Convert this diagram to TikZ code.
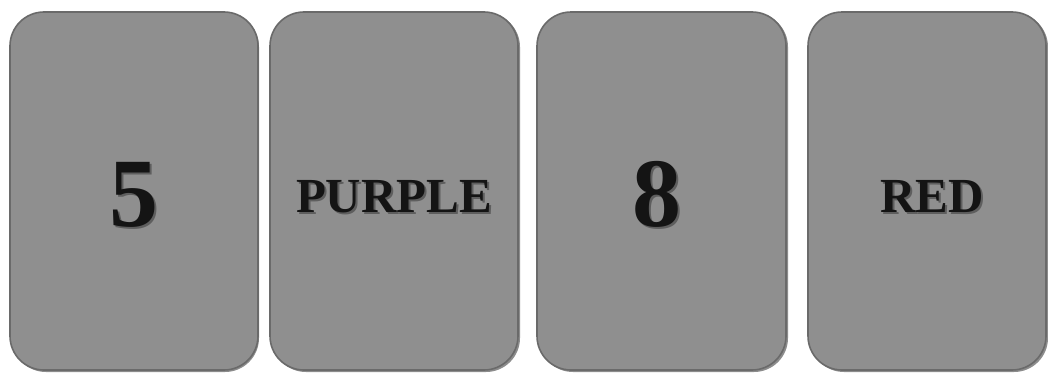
\documentclass[tikz,border=0pt]{standalone}
\usepackage{fontspec}
\setmainfont{Liberation Serif}
\definecolor{cardfill}{HTML}{8F8F8F}
\definecolor{cardedge}{HTML}{6A6A6A}
\definecolor{txt}{HTML}{141414}
\definecolor{txtshadow}{HTML}{5E5E5E}
\tikzset{
  card/.style={fill=cardfill, draw=cardedge, line width=1.6pt, rounded corners=34pt},
  cardshade/.style={fill=black!45, rounded corners=34pt},
  word/.style={font=\fontsize{49}{49}\selectfont\bfseries, text=txt, inner sep=0pt, anchor=center},
  digit/.style={font=\fontsize{98}{98}\selectfont\bfseries, text=txt, inner sep=0pt, anchor=center},
  wordshadow/.style={font=\fontsize{49}{49}\selectfont\bfseries, text=txtshadow, inner sep=0pt, anchor=center},
  digitshadow/.style={font=\fontsize{98}{98}\selectfont\bfseries, text=txtshadow, inner sep=0pt, anchor=center}
}
\begin{document}
\begin{tikzpicture}[x=1pt,y=-1pt]
\useasboundingbox (0,0) rectangle (1048,372);
\fill[white] (0,0) rectangle (1048,372);
% card shadows
\fill[cardshade] (12,13) rectangle (259,372);
\fill[cardshade] (272,13) rectangle (520,372);
\fill[cardshade] (539,13) rectangle (788,372);
\fill[cardshade] (810,13) rectangle (1048,372);
% cards
\draw[card] (10,12) rectangle (258,370);
\draw[card] (270,12) rectangle (518,370);
\draw[card] (537,12) rectangle (786,370);
\draw[card] (808,12) rectangle (1046,370);
% texts (shadow copies then main)
\node[digitshadow] at (136,197) {5};
\node[digit] (t1) at (134,195) {5};
\node[wordshadow] at (396,199) {PURPLE};
\node[word] (t2) at (394,197) {PURPLE};
\node[digitshadow] at (659,196) {8};
\node[digit] (t3) at (657,194) {8};
\node[wordshadow] at (934,199) {RED};
\node[word] (t4) at (932,197) {RED};
\end{tikzpicture}
\end{document}
